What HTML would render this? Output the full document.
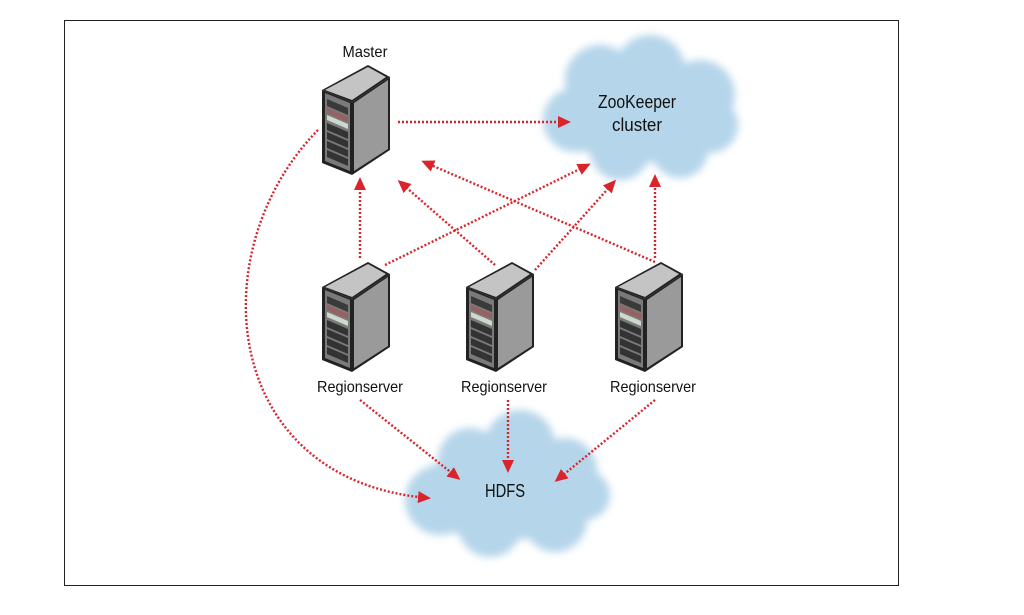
<!DOCTYPE html>
<html><head><style>
html,body{margin:0;padding:0;background:#fff;}
svg{display:block;}
text{font-family:"Liberation Sans",sans-serif;fill:#111;}
</style></head><body>
<svg width="1024" height="615" viewBox="0 0 1024 615" xmlns="http://www.w3.org/2000/svg">
<defs>
<filter id="bl" x="-20%" y="-20%" width="140%" height="140%"><feGaussianBlur stdDeviation="4"/></filter>
<marker id="ah" markerWidth="14" markerHeight="14" refX="10" refY="6" orient="auto" markerUnits="userSpaceOnUse">
<path d="M0,0 L13,6 L0,12 Z" fill="#d9242c"/></marker>
<g id="srv">
<polygon points="0,25 46,0 68,12 30,37" fill="#222"/>
<polygon points="3,25 46,2 64,12 30,35" fill="#c4c4c4"/>
<polygon points="0,25 30,37 30,110 0,98" fill="#222"/>
<polygon points="30,37 68,12 68,85 30,110" fill="#222"/>
<polygon points="32,38 66,15 66,84 32,106" fill="#9a9a9a"/>
<polygon points="3,28 28,38 28,106 3,96" fill="#7a7a7a"/>
<polygon points="5,34 26,43 26,50 5,41" fill="#3a3a3a"/>
<polygon points="5,43 26,52 26,57 5,48" fill="#9a6060"/>
<polygon points="5,50 26,59 26,64 5,55" fill="#cfd8cf"/>
<polygon points="5,58 26,67 26,74 5,65" fill="#333"/>
<polygon points="5,67 26,76 26,83 5,74" fill="#333"/>
<polygon points="5,76 26,85 26,92 5,83" fill="#333"/>
<polygon points="5,85 26,94 26,101 5,92" fill="#333"/>
</g>
</defs>
<rect x="64.5" y="20.5" width="834" height="565" fill="#fff" stroke="#222" stroke-width="1"/>

<g fill="#b5d5ea" filter="url(#bl)">
<ellipse cx="640" cy="115" rx="85" ry="48"/>
<circle cx="600" cy="80" r="35"/><circle cx="650" cy="70" r="35"/><circle cx="700" cy="95" r="35"/>
<circle cx="575" cy="120" r="32"/><circle cx="620" cy="150" r="30"/><circle cx="680" cy="150" r="28"/>
<circle cx="710" cy="125" r="28"/>
</g>
<text x="637" y="108" font-size="18" text-anchor="middle" textLength="78" lengthAdjust="spacingAndGlyphs">ZooKeeper</text>
<text x="637" y="131" font-size="18" text-anchor="middle" textLength="50" lengthAdjust="spacingAndGlyphs">cluster</text>

<g fill="#b5d5ea" filter="url(#bl)">
<ellipse cx="505" cy="495" rx="95" ry="45"/>
<circle cx="470" cy="460" r="32"/><circle cx="520" cy="445" r="35"/><circle cx="565" cy="470" r="32"/>
<circle cx="440" cy="500" r="35"/><circle cx="490" cy="525" r="32"/><circle cx="555" cy="520" r="32"/>
<circle cx="585" cy="495" r="25"/>
</g>
<text x="505" y="497" font-size="18" text-anchor="middle" textLength="40" lengthAdjust="spacingAndGlyphs">HDFS</text>

<g stroke="#d9242c" stroke-width="2.4" stroke-dasharray="2,2" fill="none" marker-end="url(#ah)">
<line x1="398" y1="122" x2="568" y2="122"/>
<path d="M318,130 C200,250 220,480 428,498"/>
<line x1="360" y1="258" x2="360" y2="180"/>
<line x1="385" y1="265" x2="588" y2="165"/>
<line x1="495" y1="265" x2="400" y2="182"/>
<line x1="535" y1="270" x2="614" y2="182"/>
<line x1="655" y1="262" x2="424" y2="162"/>
<line x1="655" y1="258" x2="655" y2="177"/>
<line x1="360" y1="400" x2="458" y2="478"/>
<line x1="508" y1="400" x2="508" y2="470"/>
<line x1="655" y1="400" x2="557" y2="480"/>
</g>

<use href="#srv" x="322" y="65"/>
<use href="#srv" x="322" y="262"/>
<use href="#srv" x="466" y="262"/>
<use href="#srv" x="615" y="262"/>

<text x="365" y="57" font-size="16" text-anchor="middle" textLength="45" lengthAdjust="spacingAndGlyphs">Master</text>
<text x="360" y="392" font-size="16" text-anchor="middle" textLength="86" lengthAdjust="spacingAndGlyphs">Regionserver</text>
<text x="504" y="392" font-size="16" text-anchor="middle" textLength="86" lengthAdjust="spacingAndGlyphs">Regionserver</text>
<text x="653" y="392" font-size="16" text-anchor="middle" textLength="86" lengthAdjust="spacingAndGlyphs">Regionserver</text>
</svg>
</body></html>
